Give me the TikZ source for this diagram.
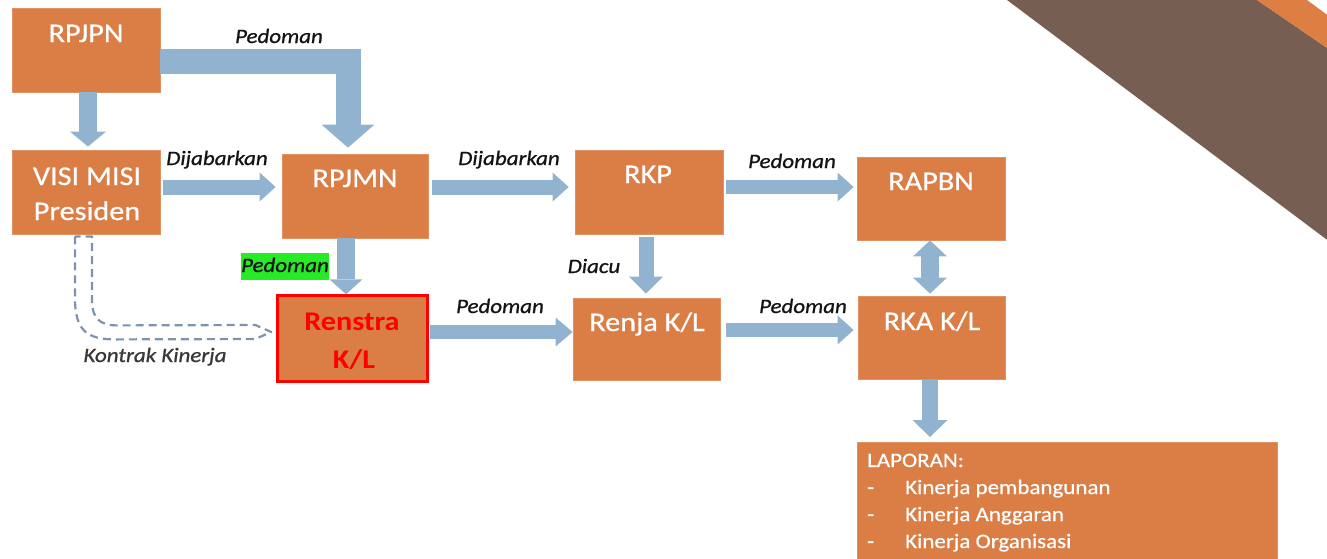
\documentclass[tikz,border=0pt]{standalone}
\usepackage{fontspec}
\setmainfont[FakeStretch=1.12]{Carlito}
\newfontfamily\boxfont[FakeStretch=1.12,FakeBold=0.6]{Carlito}
\newfontfamily\labfont[FakeStretch=1.12,FakeBold=0.9]{Carlito}
\usetikzlibrary{arrows.meta,calc}

\definecolor{boxfill}{RGB}{218,126,70}
\definecolor{flow}{RGB}{146,179,207}
\definecolor{band}{RGB}{118,94,82}
\definecolor{bandedge}{RGB}{221,127,66}
\definecolor{dashc}{RGB}{125,147,172}
\definecolor{hilite}{RGB}{40,235,40}

\begin{document}
\begin{tikzpicture}[x=1pt,y=-1pt,
  box/.style={fill=boxfill, draw=boxfill!85!white, line width=0.8pt, inner sep=0pt},
  boxtxt/.style={text=white, font=\boxfont\fontsize{27}{32}\selectfont, inner sep=0pt, anchor=base},
  lbl/.style={font=\labfont\fontsize{20.5}{24}\selectfont\itshape, text=black!92, inner sep=0pt, anchor=base},
  lap/.style={text=white, font=\boxfont\fontsize{20.5}{24}\selectfont, inner sep=0pt, anchor=base west},
  flowarrow/.style n args={3}{draw=flow, line width=#1, line join=miter,
    -{Triangle[length=#3, width=#2, line width=0pt]}},
  flowboth/.style={draw=flow, line width=18pt,
    {Triangle[length=16pt, width=34pt, line width=0pt]}-{Triangle[length=16pt, width=34pt, line width=0pt]}},
  kkline/.style={draw=dashc, line width=2.2pt, dash pattern=on 8pt off 5pt, line join=round},
]
\useasboundingbox (0,0) rectangle (1327,558);
\clip (0,0) rectangle (1327,558);

% corner band
\fill[band] (1007,0) -- (1330,242) -- (1330,50) -- (1257,0) -- cycle;
\fill[bandedge] (1257,0) -- (1330,50) -- (1330,17) -- (1307,0) -- cycle;

% boxes
\node[box, minimum width=148pt, minimum height=84pt] (rpjpn) at (86,50) {};
\node[box, minimum width=148pt, minimum height=84pt] (visi) at (86,192) {};
\node[box, minimum width=146pt, minimum height=84pt] (rpjmn) at (355,196) {};
\node[box, draw=red, line width=2.4pt, minimum width=150pt, minimum height=86pt] (renstra) at (352.5,338.5) {};
\node[box, minimum width=148pt, minimum height=84pt] (rkp) at (649,192) {};
\node[box, minimum width=147pt, minimum height=82pt] (renja) at (646.5,339) {};
\node[box, minimum width=148pt, minimum height=83pt] (rapbn) at (931,198.5) {};
\node[box, minimum width=147pt, minimum height=83pt] (rka) at (931.5,337.5) {};
\node[box, minimum width=420pt, minimum height=130pt, anchor=north west] (laporan) at (857,442) {};

% box texts
\node[boxtxt] (rpjpn-t) at (86,42) {RPJPN};
\node[boxtxt] (visi-t1) at (87,185) {VISI MISI};
\node[boxtxt] (visi-t2) at (87,220) {Presiden};
\node[boxtxt] (rpjmn-t) at (355,187) {RPJMN};
\node[boxtxt, text=red, font=\fontsize{27}{32}\selectfont\bfseries] (renstra-t1) at (352,330) {Renstra};
\node[boxtxt, text=red, font=\fontsize{27}{32}\selectfont\bfseries] (renstra-t2) at (354,368) {K/L};
\node[boxtxt] (rkp-t) at (648,183) {RKP};
\node[boxtxt] (renja-t) at (647,331) {Renja K/L};
\node[boxtxt] (rapbn-t) at (931,190) {RAPBN};
\node[boxtxt] (rka-t) at (932,330) {RKA K/L};

\node[lap] (lap0) at (867,467) {LAPORAN:};
\node[lap] (lap1) at (867,494) {\makebox[38pt][l]{-}Kinerja pembangunan};
\node[lap] (lap2) at (867,521) {\makebox[38pt][l]{-}Kinerja Anggaran};
\node[lap] (lap3) at (867,548) {\makebox[38pt][l]{-}Kinerja Organisasi};

% row levels of the horizontal flows
\coordinate (row1) at (0,187);
\coordinate (row2) at (0,332);
\coordinate (row2b) at (0,330);

% block arrows
\draw[flowarrow={18pt}{36pt}{15pt}, shorten >=3pt] ([xshift=2pt]rpjpn.south) -- ([xshift=2pt]visi.north);
\draw[flowarrow={25pt}{53pt}{23pt}, shorten >=6pt] ([yshift=-11pt]rpjpn.east) -| ([xshift=-7pt]rpjmn.north);
\draw[flowarrow={15pt}{29pt}{16pt}, shorten <=3pt, shorten >=6pt] (visi.east |- row1) -- (rpjmn.west |- row1);
\draw[flowarrow={15pt}{29pt}{16pt}, shorten <=4pt, shorten >=6pt] (rpjmn.east |- row1) -- (rkp.west |- row1);
\draw[flowarrow={14pt}{29pt}{16pt}, shorten <=3pt, shorten >=3pt] (rkp.east |- row1) -- (rapbn.west |- row1);
\draw[flowarrow={18pt}{33pt}{15pt}] ([xshift=-9pt]rpjmn.south) -- ([xshift=-9pt]rpjmn.south |- renstra.north);
\draw[flowarrow={15pt}{34pt}{17pt}, shorten <=3pt, shorten >=4pt] ([xshift=-3pt]rkp.south) -- ([xshift=-3pt]rkp.south |- renja.north);
\draw[flowboth, shorten >=2pt] ([xshift=-1pt]rapbn.south) -- ([xshift=-1pt]rapbn.south |- rka.north);
\draw[flowarrow={14pt}{29pt}{17pt}, shorten <=1.5pt] (renstra.east |- row2) -- (renja.west |- row2);
\draw[flowarrow={14pt}{29pt}{16pt}, shorten <=6pt, shorten >=4pt] (renja.east |- row2b) -- (rka.west |- row2b);
\draw[flowarrow={16pt}{35pt}{17pt}, shorten <=1pt, shorten >=5pt] ([xshift=-1.5pt]rka.south) -- ([xshift=-1.5pt]rka.south |- laporan.north);

% dashed hollow arrow: Kontrak Kinerja
\coordinate (kkL) at ($(visi.south)+(-11,2)$);
\coordinate (kkR) at ($(visi.south)+(6,2)$);
\coordinate (kkTip) at ($(renstra.west)+(-5,-6.5)$);
\draw[kkline] (kkL) -- ($(kkL)+(0,62)$)
  .. controls ($(kkL)+(0,94)$) and ($(kkL)+(12,103)$) .. ($(kkL)+(40,103)$)
  -- ($(kkTip)+(-16,7)$) -- (kkTip) -- ($(kkTip)+(-16,-7)$)
  -- ($(kkR)+(25,89)$)
  .. controls ($(kkR)+(8,89)$) and ($(kkR)+(0,82)$) .. ($(kkR)+(0,64)$)
  -- (kkR) -- cycle;

% flow labels
\node[lbl] (l-ped1) at (279,43) {Pedoman};
\node[lbl] (l-dij1) at (217,165) {Dijabarkan};
\node[lbl] (l-dij2) at (509,165) {Dijabarkan};
\node[lbl] (l-ped2) at (792,168) {Pedoman};
\node[lbl] (l-diacu) at (594,273) {Diacu};
\node[lbl] (l-ped3) at (500,313) {Pedoman};
\node[lbl] (l-ped4) at (803,313) {Pedoman};
\node[lbl, fill=hilite, inner xsep=0.5pt, inner ysep=0pt, text height=19pt, text depth=8pt] (l-ped5) at (285,272) {Pedoman};
\node[lbl, text=black!78] (l-kk) at (155,362) {Kontrak Kinerja};
\end{tikzpicture}
\end{document}
